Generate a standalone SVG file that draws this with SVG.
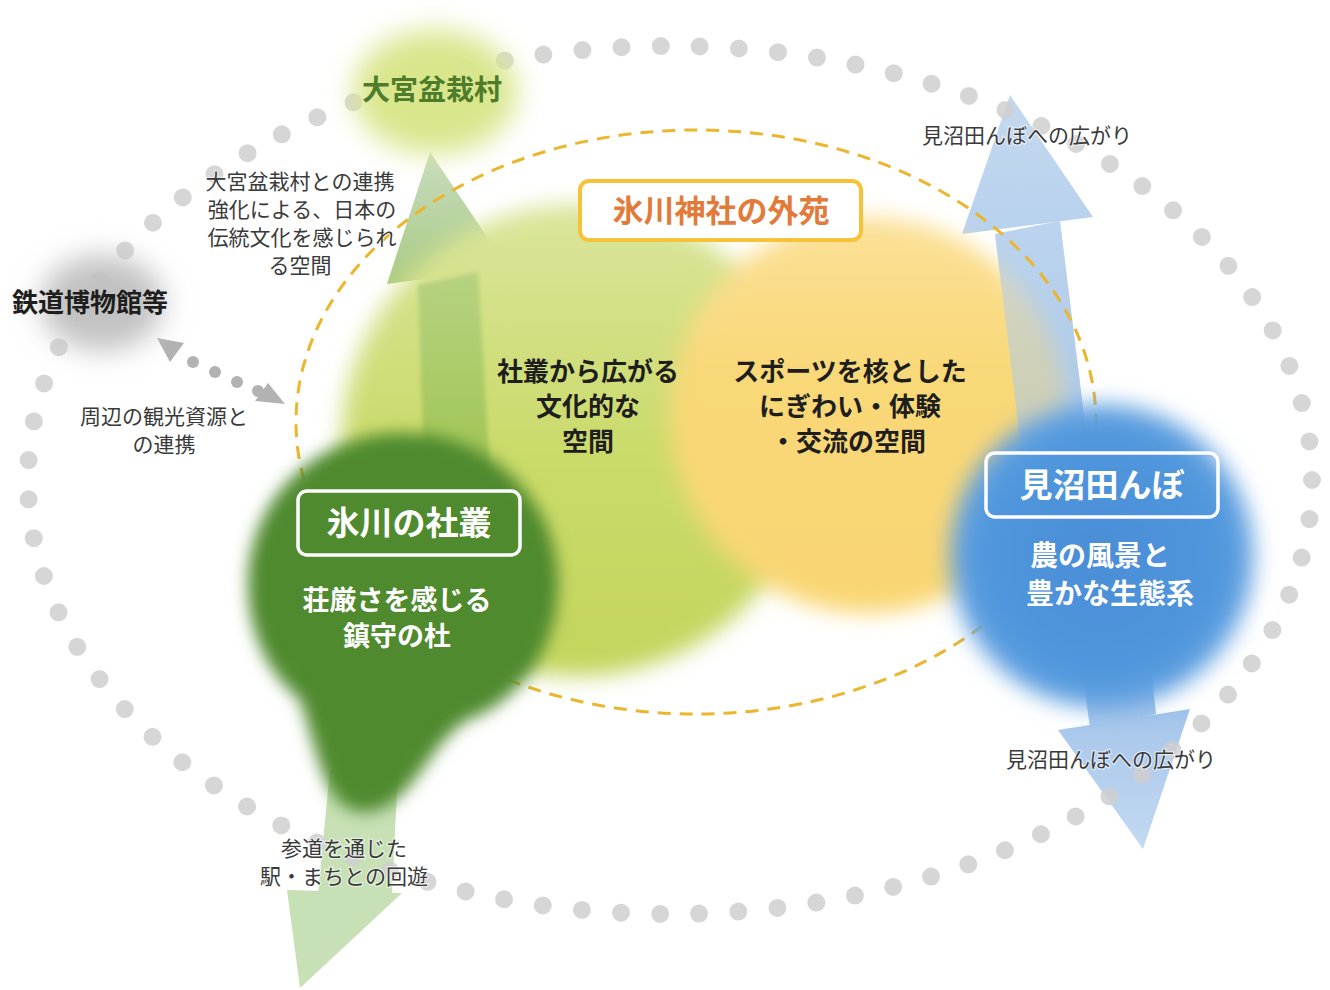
<svg xmlns="http://www.w3.org/2000/svg" width="1330" height="990" viewBox="0 0 1330 990">
<defs>
<style>
.jp{font-family:"Noto Sans CJK JP","Noto Sans",sans-serif}
.sm{font-size:21px;fill:#3a3a3a;text-anchor:middle;stroke:#fff;stroke-width:2.5;stroke-opacity:.55;paint-order:stroke}
.bk{font-weight:700;fill:#1e1e1e;text-anchor:middle}
.wh{font-weight:700;fill:#fff;text-anchor:middle}
.box{fill:none;stroke:#fff;stroke-width:3.5}
.cdot{fill:#b2b2b2}
</style>
<filter id="b14" x="-50%" y="-50%" width="200%" height="200%"><feGaussianBlur stdDeviation="14"/></filter>
<filter id="b11" x="-50%" y="-50%" width="200%" height="200%"><feGaussianBlur stdDeviation="11"/></filter>
<filter id="b8" x="-50%" y="-50%" width="200%" height="200%"><feGaussianBlur stdDeviation="8"/></filter>
<filter id="b2" x="-20%" y="-20%" width="140%" height="140%"><feGaussianBlur stdDeviation="2"/></filter>
<linearGradient id="gYG" x1="0" y1="0" x2="0" y2="1"><stop offset="0" stop-color="#dbe59c"/><stop offset=".5" stop-color="#cbdb6c"/><stop offset="1" stop-color="#c4d55c"/></linearGradient>
<linearGradient id="gY" x1="0" y1="0" x2="0" y2="1"><stop offset="0" stop-color="#fbe198"/><stop offset=".4" stop-color="#f9d878"/><stop offset="1" stop-color="#f9d672"/></linearGradient>
<radialGradient id="gB" cx=".5" cy=".5" r=".5"><stop offset="0" stop-color="#4a8dd6"/><stop offset=".8" stop-color="#5097dd"/><stop offset="1" stop-color="#6aa6e2"/></radialGradient>
<linearGradient id="gGH" gradientUnits="userSpaceOnUse" x1="0" y1="152" x2="0" y2="285"><stop offset="0" stop-color="#c8dcc0"/><stop offset="1" stop-color="#a8ca82"/></linearGradient>
<linearGradient id="gGS" gradientUnits="userSpaceOnUse" x1="0" y1="270" x2="0" y2="505"><stop offset="0" stop-color="#a9cc7c"/><stop offset="1" stop-color="#8cba46"/></linearGradient>
<linearGradient id="gBU" gradientUnits="userSpaceOnUse" x1="0" y1="95" x2="0" y2="430"><stop offset="0" stop-color="#c4d9ef"/><stop offset="1" stop-color="#a7c6ea"/></linearGradient>
<linearGradient id="gBD" gradientUnits="userSpaceOnUse" x1="0" y1="640" x2="0" y2="849"><stop offset="0" stop-color="#7eaee2"/><stop offset=".45" stop-color="#abc9ec"/><stop offset="1" stop-color="#c3d9f1"/></linearGradient>
</defs>
<rect width="1330" height="990" fill="#fff"/>

<g id="connectors">
  <!-- green arrow up to 大宮盆栽村 -->
  <polygon points="418,285 478,272 492,505 425,510" fill="url(#gGS)"/>
  <polygon points="430,152 508,268 387,284" fill="url(#gGH)"/>
  <!-- blue arrow up -->
  <polygon points="995,234 1060,221 1087,440 1020,440" fill="url(#gBU)" opacity=".92"/>
  <polygon points="1010,95 1093,217 962,234" fill="url(#gBU)"/>
  <!-- blue arrow down -->
  <polygon points="1078,640 1148,640 1156,714 1090,728" fill="url(#gBD)"/>
  <polygon points="1058,730 1190,709 1143,849" fill="url(#gBD)"/>
  <!-- green arrow down-left -->
  <polygon points="330,770 398,770 392,893 318,893" fill="#c7e0b5"/>
  <polygon points="287,890 402,893 300,988" fill="#c7e0b5"/>
  <!-- dotted link to 鉄道博物館等 -->
  <polygon class="cdot" points="157,338 184,343 170,362"/>
  <circle class="cdot" cx="193" cy="362" r="6"/>
  <circle class="cdot" cx="215" cy="372" r="6"/>
  <circle class="cdot" cx="237" cy="382" r="6"/>
  <circle class="cdot" cx="258" cy="391" r="6"/>
  <polygon class="cdot" points="268,383 285,404 255,401"/>
</g>

<g id="outer-ring">
  <ellipse cx="670" cy="480" rx="642" ry="434" fill="none" stroke="#cfcfcf" stroke-opacity=".85" stroke-width="18" stroke-linecap="round" stroke-dasharray="0 39.22"/>
</g>

<g id="node-tetsudo">
  <ellipse cx="102" cy="303" rx="62" ry="48" fill="#c2c2c2" filter="url(#b14)"/>
  <text class="jp bk" x="90" y="312" font-size="26" fill="#2a2a2a">鉄道博物館等</text>
</g>

<g id="node-omiya">
  <ellipse cx="435" cy="92" rx="82" ry="62" fill="#d9e68c" filter="url(#b14)"/>
  <text class="jp" x="432" y="100" font-size="28" font-weight="700" fill="#4f7c2a" text-anchor="middle">大宮盆栽村</text>
</g>

<g id="node-culture">
  <circle cx="578" cy="440" r="236" fill="url(#gYG)" filter="url(#b11)"/>
  <polygon points="418,285 478,272 492,505 425,510" fill="url(#gGS)" opacity=".7" filter="url(#b2)"/>
</g>

<g id="node-sports">
  <circle cx="868" cy="415" r="198" fill="url(#gY)" filter="url(#b11)"/>
  <polygon points="995,234 1060,221 1087,440 1020,440" fill="url(#gBU)" opacity=".55"/>
</g>

<g id="gaien-boundary">
  <ellipse cx="696" cy="422" rx="400" ry="292" fill="none" stroke="#ebb52c" stroke-width="3" stroke-dasharray="13 9"/>
</g>

<g id="node-shaso">
  <path d="M403,433 C490,433 558,500 558,583 C558,650 520,700 468,720 C430,740 410,812 365,812 C325,812 320,760 300,700 C265,670 248,630 248,583 C248,500 316,433 403,433 Z" fill="#4f8a2f" filter="url(#b8)"/>
  <rect class="box" x="298" y="491" width="222" height="64" rx="9"/>
  <text class="jp wh" x="409" y="535" font-size="33">氷川の社叢</text>
  <text class="jp wh" x="397" y="610" font-size="27">荘厳さを感じる</text>
  <text class="jp wh" x="397" y="646" font-size="27">鎮守の杜</text>
</g>

<g id="node-minuma">
  <circle cx="1102" cy="556" r="152" fill="url(#gB)" filter="url(#b11)"/>
  <rect class="box" x="986" y="453" width="232" height="64" rx="9"/>
  <text class="jp wh" x="1102" y="497" font-size="33">見沼田んぼ</text>
  <text class="jp wh" x="1100" y="566" font-size="28">農の風景と</text>
  <text class="jp wh" x="1110" y="604" font-size="28">豊かな生態系</text>
</g>

<g id="node-gaien-label">
  <rect x="580" y="181" width="281" height="59" rx="9" fill="#fff" stroke="#f5c23a" stroke-width="4"/>
  <text class="jp" x="721" y="222" font-size="31" font-weight="700" fill="#e27b3a" text-anchor="middle">氷川神社の外苑</text>
</g>

<g id="texts-culture">
  <text class="jp bk" x="588" y="381" font-size="26">社叢から広がる</text>
  <text class="jp bk" x="588" y="416" font-size="26">文化的な</text>
  <text class="jp bk" x="588" y="451" font-size="26">空間</text>
</g>
<g id="texts-sports">
  <text class="jp bk" x="850" y="381" font-size="26">スポーツを核とした</text>
  <text class="jp bk" x="850" y="416" font-size="26">にぎわい・体験</text>
  <text class="jp bk" x="848" y="451" font-size="26">・交流の空間</text>
</g>

<g id="labels">
  <text class="jp sm" x="300" y="189">大宮盆栽村との連携</text>
  <text class="jp sm" x="302" y="217">強化による、日本の</text>
  <text class="jp sm" x="302" y="245">伝統文化を感じられ</text>
  <text class="jp sm" x="300" y="273">る空間</text>
  <text class="jp sm" x="164" y="424">周辺の観光資源と</text>
  <text class="jp sm" x="164" y="452">の連携</text>
  <text class="jp sm" x="1027" y="143">見沼田んぼへの広がり</text>
  <text class="jp sm" x="1111" y="767">見沼田んぼへの広がり</text>
  <text class="jp sm" x="344" y="856">参道を通じた</text>
  <text class="jp sm" x="344" y="884">駅・まちとの回遊</text>
</g>
</svg>
